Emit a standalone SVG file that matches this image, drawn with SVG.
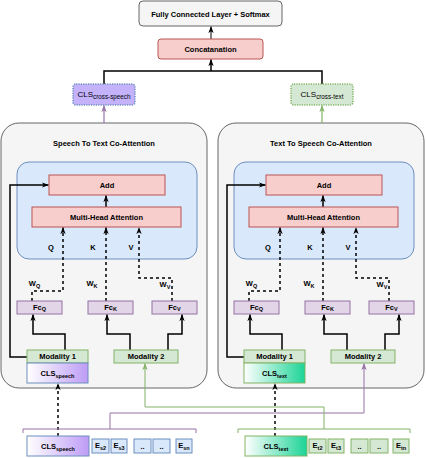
<svg xmlns="http://www.w3.org/2000/svg" width="426" height="458" viewBox="0 0 426 458">
<defs>
<style>
text{font-family:"Liberation Sans",Arial,sans-serif;fill:#000;text-anchor:middle}
.b{font-weight:bold;font-size:7.5px}
.s{font-size:5.5px}
.panel{fill:#f5f5f5;stroke:#666;stroke-width:1}
.blue{fill:#dae8fc;stroke:#6c8ebf;stroke-width:1}
.red{fill:#f8cecc;stroke:#b85450;stroke-width:1}
.pur{fill:#e1d5e7;stroke:#9673a6;stroke-width:1}
.grn{fill:#d5e8d4;stroke:#82b366;stroke-width:1}
.ln{fill:none;stroke:#000;stroke-width:1.5}
.dl{fill:none;stroke:#000;stroke-width:1.5;stroke-dasharray:3 3}
.pl{fill:none;stroke:#9673a6;stroke-width:1}
.gl{fill:none;stroke:#82b366;stroke-width:1}
</style>
<marker id="ak" viewBox="0 0 8 6" refX="7.5" refY="3" markerWidth="7" markerHeight="6" markerUnits="userSpaceOnUse" orient="auto"><path d="M0,0 L8,3 L0,6 L2,3 z" fill="#000"/></marker>
<marker id="ap" viewBox="0 0 8 6" refX="7.5" refY="3" markerWidth="7" markerHeight="6" markerUnits="userSpaceOnUse" orient="auto"><path d="M0,0 L8,3 L0,6 L2,3 z" fill="#9673a6"/></marker>
<marker id="ag" viewBox="0 0 8 6" refX="7.5" refY="3" markerWidth="7" markerHeight="6" markerUnits="userSpaceOnUse" orient="auto"><path d="M0,0 L8,3 L0,6 L2,3 z" fill="#82b366"/></marker>
<linearGradient id="gs" x1="0" y1="0" x2="1" y2="0"><stop offset="0" stop-color="#ffffff"/><stop offset="1" stop-color="#bd9cf6"/></linearGradient>
<linearGradient id="gt" x1="0" y1="0" x2="1" y2="0"><stop offset="0" stop-color="#ffffff"/><stop offset="1" stop-color="#1cd496"/></linearGradient>
</defs>

<g id="left-panel">
<rect class="panel" x="1" y="123" width="206" height="265" rx="18"/>
<text class="b" x="104" y="146">Speech To Text Co-Attention</text>
<rect class="blue" x="17" y="162" width="180" height="97" rx="12"/>
</g>
<g id="right-panel">
<rect class="panel" x="218" y="123" width="206" height="265" rx="18"/>
<text class="b" x="321" y="146">Text To Speech Co-Attention</text>
<rect class="blue" x="234" y="162" width="180" height="97" rx="12"/>
</g>

<g id="connectors">
<path class="ln" d="M211 39 V26.5" marker-end="url(#ak)" style="stroke-width:1"/>
<path class="ln" d="M104 84 V71 H322 V84"/>
<path class="ln" d="M211 71 V59.5" marker-end="url(#ak)"/>
<path class="pl" d="M104 123 V105.5" marker-end="url(#ap)" style="stroke-width:1.2"/>
<path class="gl" d="M322 123 V105.5" marker-end="url(#ag)" style="stroke-width:1.2"/>
<!-- left panel -->
<path class="ln" d="M106 207 V195.5" marker-end="url(#ak)"/>
<path class="dl" d="M32 301 V291 H63 V227.5" marker-end="url(#ak)"/>
<path class="dl" d="M106 301 V227.5" marker-end="url(#ak)"/>
<path class="dl" d="M172 301 V278 H139 V227.5" marker-end="url(#ak)"/>
<path class="ln" d="M65 350 V334 H33 V314.5" marker-end="url(#ak)"/>
<path class="ln" d="M130 350 V334 H107 V314.5" marker-end="url(#ak)"/>
<path class="ln" d="M168 350 V334 H182 V314.5" marker-end="url(#ak)"/>
<path class="ln" d="M27 357 H10 V185 H48.5" marker-end="url(#ak)"/>
<path class="dl" d="M58 436 V383.5" marker-end="url(#ak)"/>
<!-- right panel -->
<path class="ln" d="M323 207 V195.5" marker-end="url(#ak)"/>
<path class="dl" d="M249 301 V291 H280 V227.5" marker-end="url(#ak)"/>
<path class="dl" d="M323 301 V227.5" marker-end="url(#ak)"/>
<path class="dl" d="M389 301 V278 H356 V227.5" marker-end="url(#ak)"/>
<path class="ln" d="M282 350 V334 H250 V314.5" marker-end="url(#ak)"/>
<path class="ln" d="M347 350 V334 H324 V314.5" marker-end="url(#ak)"/>
<path class="ln" d="M385 350 V334 H399 V314.5" marker-end="url(#ak)"/>
<path class="ln" d="M244 357 H227 V185 H265.5" marker-end="url(#ak)"/>
<path class="dl" d="M275 436 V383.5" marker-end="url(#ak)"/>
<!-- cross connections -->
<path class="pl" d="M23 433 V429 H196 V433"/>
<path class="pl" d="M110 429 V413 H364 V363.5" marker-end="url(#ap)"/>
<path class="gl" d="M238 433 V429 H410 V433"/>
<path class="gl" d="M324 429 V407 H145 V363.5" marker-end="url(#ag)"/>
</g>

<g id="fc-softmax"><rect x="139" y="1" width="143" height="25" rx="4" fill="#f5f5f5" stroke="#666"/><text class="b" x="210.5" y="16.5">Fully Connected Layer + Softmax</text></g>
<g id="concatenation"><rect class="red" x="158" y="39" width="105" height="20" rx="3"/><text class="b" x="210.5" y="51.8">Concatanation</text></g>
<g id="cls-cross-speech"><rect x="73" y="84" width="62" height="21" rx="3" fill="#c4b2fb" stroke="#6c8ebf" stroke-width="1.5" stroke-dasharray="1.2 1.2"/><text x="104" y="97" font-size="8">CLS<tspan dy="2" font-size="6.3">cross-speech</tspan></text></g>
<g id="cls-cross-text"><rect x="291" y="84" width="62" height="21" rx="3" fill="#d5e8d4" stroke="#82b366" stroke-width="1.5" stroke-dasharray="1.2 1.2"/><text x="322" y="97" font-size="8">CLS<tspan dy="2" font-size="6.3">cross-text</tspan></text></g>

<!-- left panel nodes -->
<g id="l-add"><rect class="red" x="49" y="175" width="116" height="20"/><text class="b" x="107" y="187.8">Add</text></g>
<g id="l-mha"><rect class="red" x="32" y="207" width="149" height="20"/><text class="b" x="106.5" y="219.8">Multi-Head Attention</text></g>
<g id="l-labels">
<text class="b" x="51" y="249.5">Q</text><text class="b" x="93" y="249.5">K</text><text class="b" x="131" y="249.5">V</text>
<text class="b" x="34.5" y="286">W<tspan class="s" dy="1.5">Q</tspan></text>
<text class="b" x="92" y="286">W<tspan class="s" dy="1.5">K</tspan></text>
<text class="b" x="165" y="287">W<tspan class="s" dy="1.5">V</tspan></text>
</g>
<g id="l-fcq"><rect class="pur" x="17" y="301" width="45" height="13"/><text class="b" x="39.5" y="309.8">Fc<tspan class="s" dy="1.5">Q</tspan></text></g>
<g id="l-fck"><rect class="pur" x="88" y="301" width="45" height="13"/><text class="b" x="110.5" y="309.8">Fc<tspan class="s" dy="1.5">K</tspan></text></g>
<g id="l-fcv"><rect class="pur" x="152" y="301" width="45" height="13"/><text class="b" x="174.5" y="309.8">Fc<tspan class="s" dy="1.5">V</tspan></text></g>
<g id="l-mod1"><rect class="grn" x="27" y="350" width="61" height="13"/><text class="b" x="57.5" y="359.3">Modality 1</text></g>
<g id="l-mod2"><rect class="grn" x="114" y="350" width="64" height="13"/><text class="b" x="146" y="359.3">Modality 2</text></g>
<g id="l-cls"><rect x="27" y="363" width="61" height="20" fill="url(#gs)" stroke="#6c8ebf"/><text class="b" x="57.5" y="375.5">CLS<tspan class="s" dy="2">speech</tspan></text></g>

<!-- right panel nodes -->
<g id="r-add"><rect class="red" x="266" y="175" width="116" height="20"/><text class="b" x="324" y="187.8">Add</text></g>
<g id="r-mha"><rect class="red" x="249" y="207" width="149" height="20"/><text class="b" x="323.5" y="219.8">Multi-Head Attention</text></g>
<g id="r-labels">
<text class="b" x="268" y="249.5">Q</text><text class="b" x="310" y="249.5">K</text><text class="b" x="348" y="249.5">V</text>
<text class="b" x="251.5" y="286">W<tspan class="s" dy="1.5">Q</tspan></text>
<text class="b" x="309" y="286">W<tspan class="s" dy="1.5">K</tspan></text>
<text class="b" x="382" y="287">W<tspan class="s" dy="1.5">V</tspan></text>
</g>
<g id="r-fcq"><rect class="pur" x="234" y="301" width="45" height="13"/><text class="b" x="256.5" y="309.8">Fc<tspan class="s" dy="1.5">Q</tspan></text></g>
<g id="r-fck"><rect class="pur" x="305" y="301" width="45" height="13"/><text class="b" x="327.5" y="309.8">Fc<tspan class="s" dy="1.5">K</tspan></text></g>
<g id="r-fcv"><rect class="pur" x="369" y="301" width="45" height="13"/><text class="b" x="391.5" y="309.8">Fc<tspan class="s" dy="1.5">V</tspan></text></g>
<g id="r-mod1"><rect class="grn" x="244" y="350" width="61" height="13"/><text class="b" x="274.5" y="359.3">Modality 1</text></g>
<g id="r-mod2"><rect class="grn" x="331" y="350" width="64" height="13"/><text class="b" x="363" y="359.3">Modality 2</text></g>
<g id="r-cls"><rect x="244" y="363" width="61" height="20" fill="url(#gt)" stroke="#82b366"/><text class="b" x="274.5" y="375.5">CLS<tspan class="s" dy="2">text</tspan></text></g>

<!-- inputs -->
<g id="in-cls-speech"><rect x="27" y="436" width="62" height="20" fill="url(#gs)" stroke="#6c8ebf"/><text class="b" x="58" y="448.5">CLS<tspan class="s" dy="2">speech</tspan></text></g>
<g id="in-es2"><rect class="blue" x="92" y="439" width="17" height="14"/><text class="b" x="100.5" y="448">E<tspan class="s" dy="1.5">s2</tspan></text></g>
<g id="in-es3"><rect class="blue" x="111" y="439" width="16" height="14"/><text class="b" x="119" y="448">E<tspan class="s" dy="1.5">s3</tspan></text></g>
<g id="in-sdot1"><rect class="blue" x="134" y="439" width="17" height="14"/><text class="b" x="142.5" y="449">..</text></g>
<g id="in-sdot2"><rect class="blue" x="153" y="439" width="17" height="14"/><text class="b" x="161.5" y="449">..</text></g>
<g id="in-esn"><rect class="blue" x="176" y="439" width="16" height="14"/><text class="b" x="184" y="448">E<tspan class="s" dy="1.5">sn</tspan></text></g>

<g id="in-cls-text"><rect x="245" y="436" width="62" height="20" fill="url(#gt)" stroke="#82b366"/><text class="b" x="276" y="448.5">CLS<tspan class="s" dy="2">text</tspan></text></g>
<g id="in-et2"><rect class="grn" x="309" y="439" width="17" height="14"/><text class="b" x="317.5" y="448">E<tspan class="s" dy="1.5">t2</tspan></text></g>
<g id="in-et3"><rect class="grn" x="328" y="439" width="16" height="14"/><text class="b" x="336" y="448">E<tspan class="s" dy="1.5">t3</tspan></text></g>
<g id="in-tdot1"><rect class="grn" x="351" y="439" width="17" height="14"/><text class="b" x="359.5" y="449">..</text></g>
<g id="in-tdot2"><rect class="grn" x="370" y="439" width="18" height="14"/><text class="b" x="379" y="449">..</text></g>
<g id="in-etn"><rect class="grn" x="393" y="439" width="16" height="14"/><text class="b" x="401" y="448">E<tspan class="s" dy="1.5">tn</tspan></text></g>
</svg>
